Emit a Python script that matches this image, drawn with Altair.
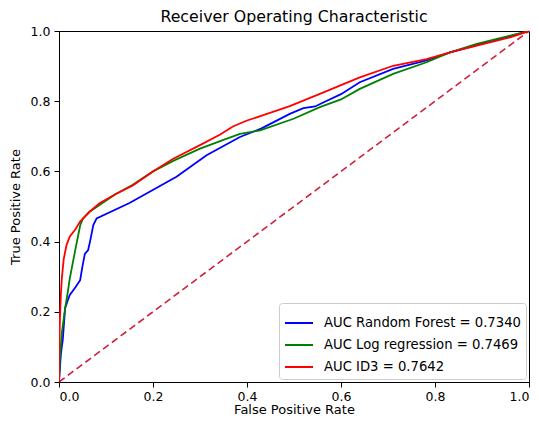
import altair as alt
import pandas as pd

series_names = ["AUC Random Forest = 0.7340", "AUC Log regression = 0.7469", "AUC ID3 = 0.7642"]
series_colors = ["#0000ff", "#008000", "#ff0000"]

rf_fpr = [0, 0.003, 0.004, 0.008, 0.013, 0.018, 0.023, 0.035, 0.045, 0.05, 0.055, 0.062, 0.066, 0.073, 0.08,
          0.15, 0.25, 0.314, 0.385, 0.43, 0.491, 0.52, 0.545, 0.56, 0.6, 0.64, 0.711, 0.782, 0.832, 0.889, 0.96, 1.0]
rf_tpr = [0, 0.06, 0.08, 0.12, 0.21, 0.23, 0.248, 0.27, 0.29, 0.33, 0.365, 0.376, 0.40, 0.447, 0.466,
          0.51, 0.585, 0.646, 0.698, 0.722, 0.764, 0.78, 0.785, 0.795, 0.82, 0.854, 0.892, 0.916, 0.939, 0.96, 0.985, 1.0]

lr_fpr = [0, 0.002, 0.006, 0.013, 0.018, 0.023, 0.034, 0.045, 0.051, 0.065, 0.087, 0.12, 0.157, 0.2, 0.243,
          0.3, 0.35, 0.385, 0.428, 0.499, 0.555, 0.6, 0.64, 0.711, 0.782, 0.832, 0.889, 0.96, 1.0]
lr_tpr = [0, 0.07, 0.14, 0.21, 0.25, 0.295, 0.372, 0.446, 0.466, 0.485, 0.505, 0.535, 0.562, 0.6, 0.63,
          0.665, 0.69, 0.707, 0.717, 0.75, 0.783, 0.805, 0.835, 0.878, 0.911, 0.939, 0.963, 0.987, 1.0]

id3_fpr = [0, 0.0, 0.002, 0.004, 0.006, 0.01, 0.016, 0.023, 0.035, 0.045, 0.065, 0.087, 0.12, 0.157, 0.2,
           0.243, 0.3, 0.343, 0.37, 0.4, 0.43, 0.491, 0.555, 0.64, 0.711, 0.782, 0.832, 0.889, 0.96, 1.0]
id3_tpr = [0, 0.07, 0.18, 0.25, 0.295, 0.35, 0.39, 0.415, 0.435, 0.457, 0.485, 0.51, 0.535, 0.56, 0.6,
           0.636, 0.675, 0.705, 0.728, 0.745, 0.758, 0.786, 0.821, 0.868, 0.901, 0.92, 0.939, 0.958, 0.982, 1.0]

diag_x = [0, 1]
diag_y = [0, 1]

tick_values = [0, 0.2, 0.4, 0.6, 0.8, 1.0]

rows = []
for name, fx, ty in zip(series_names, [rf_fpr, lr_fpr, id3_fpr], [rf_tpr, lr_tpr, id3_tpr]):
    for i, (a, b) in enumerate(zip(fx, ty)):
        rows.append({"series": name, "fpr": a, "tpr": b, "idx": i})
df = pd.DataFrame(rows)
diag = pd.DataFrame({"fpr": diag_x, "tpr": diag_y})

xscale = alt.Scale(domain=[0, 1], nice=False, zero=False)
yscale = alt.Scale(domain=[0, 1], nice=False, zero=False)

xaxis = alt.Axis(title="False Positive Rate", values=tick_values, format=".1f",
                 grid=False, tickSize=5, labelPadding=3, titlePadding=1)
yaxis = alt.Axis(title="True Positive Rate", values=tick_values, format=".1f",
                 grid=False, tickSize=5, labelPadding=4, titlePadding=8)

lines = alt.Chart(df).mark_line(strokeWidth=1.8, clip=True).encode(
    x=alt.X("fpr:Q", scale=xscale, axis=xaxis),
    y=alt.Y("tpr:Q", scale=yscale, axis=yaxis),
    color=alt.Color("series:N", scale=alt.Scale(domain=series_names, range=series_colors),
                    legend=alt.Legend(title=None, orient="bottom-right", offset=3,
                                      symbolType="stroke", symbolSize=784, symbolStrokeWidth=2,
                                      labelFontSize=13.2, labelLimit=400, labelOffset=10,
                                      rowPadding=-2, padding=5,
                                      strokeColor="#cccccc", fillColor="white", cornerRadius=3)),
    order="idx:Q",
)

diagonal = alt.Chart(diag).mark_line(color="#d0203a", strokeDash=[7, 4], strokeWidth=1.6).encode(
    x=alt.X("fpr:Q", scale=xscale),
    y=alt.Y("tpr:Q", scale=yscale),
)

chart = alt.layer(diagonal, lines).properties(
    width=470, height=351,
    autosize=alt.AutoSizeParams(type="none"),
    padding={"left": 51, "top": 23, "right": 2, "bottom": 36},
    title=alt.TitleParams("Receiver Operating Characteristic", fontSize=15.8, fontWeight="normal",
                          font="DejaVu Sans", color="black", offset=4, dy=5),
).configure_axis(
    labelFont="DejaVu Sans", titleFont="DejaVu Sans", labelFontSize=12.5, titleFontSize=13,
    labelColor="black", titleColor="black", titleFontWeight="normal",
    domainColor="black", tickColor="black", domainWidth=1,
).configure_legend(
    labelFont="DejaVu Sans", labelColor="black",
).configure_view(
    stroke="black", strokeWidth=1,
)

chart.save("out.html", embed_options={"renderer": "svg", "actions": False})
